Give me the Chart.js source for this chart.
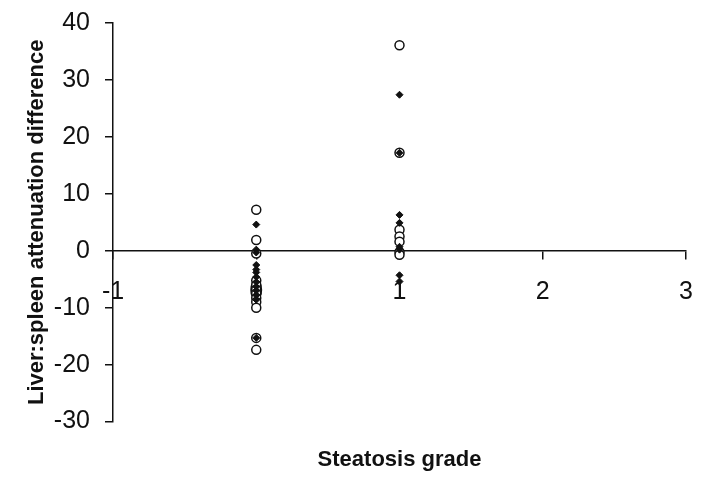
<!DOCTYPE html>
<html>
<head>
<meta charset="utf-8">
<script src="https://cdn.jsdelivr.net/npm/chart.js@4"></script>
<style>
  body { margin: 0; background: #fff; }
</style>
</head>
<body>
<canvas id="scatter" width="704" height="484"></canvas>
<script>
// steatosis grade (x) and liver:spleen attenuation difference (y)
const xTicks = [-1, 0, 1, 2, 3];
const circleGrade = [0, 0, 0, 0, 0, 0, 0, 0, 0, 0, 0, 0, 1, 1, 1, 1, 1, 1, 1];
const circleDiff = [7.2, 1.9, -5.2, -6, -6.8, -7.5, -8.3, -9, -10, -15.3, -17.4, -0.5,
                    36.1, 17.2, 3.7, 2.5, 1.6, -0.2, -0.7];
const diamondGrade = [0, 0, 0, 0, 0, 0, 0, 0, 0, 0, 0, 0, 0, 1, 1, 1, 1, 1, 1, 1, 1];
const diamondDiff = [4.6, 0.2, -0.3, -2.5, -3.3, -4.6, -5.5, -6.3, -7, -7.8, -8.6, -15.3, -3.8,
                     27.4, 17.2, 6.3, 4.9, 0.7, 0.2, -4.3, -5.4];

const toPoints = (xs, ys) => xs.map((x, i) => ({ x: x, y: ys[i] }));

const font = "'Liberation Sans', Arial, sans-serif";
const ink = "#111";

// let the layout padding alone decide the plot edges
const noOverflow = (scale) => {
    scale.paddingTop = 0;
    scale.paddingBottom = 0;
    scale.paddingLeft = 0;
    scale.paddingRight = 0;
};

new Chart(document.getElementById("scatter").getContext("2d"), {
    type: "scatter",
    data: {
        datasets: [
            {
                label: "diamonds",
                data: toPoints(diamondGrade, diamondDiff),
                pointStyle: "rectRot",
                pointRadius: 3.5,
                backgroundColor: ink,
                borderColor: ink,
                borderWidth: 1
            },
            {
                label: "circles",
                data: toPoints(circleGrade, circleDiff),
                pointStyle: "circle",
                pointRadius: 4.5,
                backgroundColor: "#fff",
                borderColor: ink,
                borderWidth: 1.5
            }
        ]
    },
    options: {
        responsive: false,
        animation: false,
        layout: {
            autoPadding: false,
            padding: { top: 23, right: 18, left: 0, bottom: 0 }
        },
        plugins: {
            legend: { display: false },
            tooltip: { enabled: false }
        },
        scales: {
            x: {
                type: "linear",
                position: { y: 0 },
                min: -1,
                max: 3,
                afterBuildTicks: (axis) => {
                    axis.ticks = xTicks.map(v => ({ value: v }));
                },
                afterFit: noOverflow,
                border: { color: ink, width: 1.5 },
                grid: { drawOnChartArea: false, color: ink, lineWidth: 1.5, tickLength: 8 },
                ticks: {
                    color: ink,
                    padding: 18,
                    font: { family: font, size: 25 }
                }
            },
            // only carries the x title, centred under the plot
            xTitle: {
                type: "linear",
                position: "bottom",
                min: -1,
                max: 3,
                afterFit: noOverflow,
                ticks: { display: false },
                grid: { display: false, drawTicks: false },
                border: { display: false },
                title: {
                    display: true,
                    text: "Steatosis grade",
                    color: ink,
                    font: { family: font, size: 22, weight: "bold" },
                    padding: { top: 25, bottom: 11 }
                }
            },
            y: {
                min: -30,
                max: 40,
                afterFit: (scale) => {
                    noOverflow(scale);
                    scale.width = 113;
                },
                ticks: {
                    stepSize: 10,
                    color: ink,
                    padding: 15,
                    font: { family: font, size: 25 }
                },
                border: { color: ink, width: 1.5 },
                grid: { drawOnChartArea: false, color: ink, lineWidth: 1.5, tickLength: 8 },
                title: {
                    display: true,
                    text: "Liver:spleen attenuation difference",
                    color: ink,
                    font: { family: font, size: 22, weight: "bold" },
                    padding: { top: 24, bottom: 0 }
                }
            }
        }
    }
});
</script>
</body>
</html>
